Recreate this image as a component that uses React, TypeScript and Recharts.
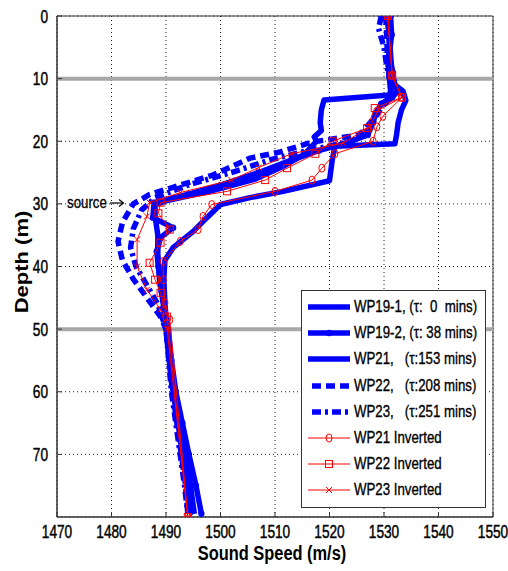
import type { ReactNode } from 'react';
import {
  CartesianGrid,
  ReferenceArea,
  ReferenceLine,
  Scatter,
  ScatterChart,
  XAxis,
  YAxis,
} from 'recharts';

const BLUE = '#0000ff';
const RED = '#ff0000';
const FONT = '"Liberation Sans", Arial, sans-serif';

const speedTicks = [1470, 1480, 1490, 1500, 1510, 1520, 1530, 1540, 1550];
const depthTicks = [0, 10, 20, 30, 40, 50, 60, 70];
const layerDepths = [10, 50];

// measured profiles: depth (m) / sound speed (m/s)
const wp191Depth = [0, 2, 5, 8, 10, 12, 12.6, 13.4, 15, 17, 18.3, 19.3, 20, 22, 24, 26, 28, 29.5, 30.2, 32, 35, 38, 42, 46, 50, 55, 60, 65, 70, 75, 79.5];
const wp191Speed = [1530.5, 1530.8, 1531, 1530.8, 1531, 1531.2, 1531, 1519, 1518.5, 1518.3, 1518.5, 1517.2, 1517.6, 1515.5, 1511.5, 1506.5, 1498, 1490, 1488, 1488, 1488.5, 1488.5, 1488.8, 1489.5, 1490, 1490.6, 1491.3, 1492.2, 1493, 1494, 1494.6];

const wp192Depth = [0, 3, 6, 9, 10.5, 12, 13, 14, 15.5, 17, 19, 20.3, 21.5, 23, 25, 27, 28.5, 29.8, 32.2, 33.8, 35.4, 37.6, 40, 44, 48, 50, 55, 60, 65, 70, 75, 79.5];
const wp192Speed = [1531.2, 1531.4, 1531, 1531.6, 1531.8, 1532.5, 1531.5, 1529.5, 1528.5, 1528, 1527, 1523, 1518, 1513, 1507, 1500, 1494, 1487.8, 1487.6, 1491.3, 1489, 1488.3, 1488.6, 1489.2, 1490, 1490.4, 1491, 1491.8, 1493, 1494.2, 1495.5, 1496.5];

const wp21Depth = [0, 3, 6, 9, 11, 12, 13.5, 15, 17, 19, 20.4, 20.8, 23, 26.3, 28, 29, 30.1, 32.2, 34.4, 37, 39, 42, 46, 50, 55, 60, 65, 70, 75, 79.5];
const wp21Speed = [1530.8, 1531, 1531.2, 1531.4, 1532, 1533.5, 1534, 1533.2, 1532.6, 1532.3, 1532, 1521, 1520.5, 1520, 1511.5, 1505.4, 1500, 1497.5, 1495, 1491.3, 1489.8, 1489.6, 1489.8, 1490.2, 1490.8, 1491.6, 1492.6, 1493.6, 1494.5, 1495.2];

const wp22Depth = [0, 3, 6, 9, 11, 13, 15, 17, 19, 20.1, 21.7, 22.7, 25.4, 27, 28.5, 30, 33, 36, 39, 42, 45, 48, 50, 55, 60, 65, 70, 75, 79.5];
const wp22Speed = [1530.3, 1530.5, 1530.6, 1530.9, 1531.2, 1531.4, 1529, 1527.5, 1525.5, 1517, 1511, 1505.4, 1498.6, 1492.6, 1487, 1484, 1482, 1481.2, 1482, 1484, 1486.5, 1489, 1490, 1490.6, 1491.2, 1492, 1492.8, 1493.6, 1494];

const wp23Depth = [0, 2, 5, 8, 10, 12, 14, 16, 18, 20, 21.5, 23, 25, 27, 29, 31, 34, 37, 40, 43, 46, 50, 55, 60, 65, 70, 75, 79.5];
const wp23Speed = [1529.5, 1529, 1530, 1530.5, 1531, 1531.8, 1530, 1528.5, 1527.5, 1524, 1516, 1509, 1502, 1494, 1488, 1485.5, 1484, 1483.5, 1484.5, 1486.5, 1488.5, 1490, 1490.5, 1491, 1491.8, 1492.6, 1493.4, 1494];

// inverted profiles
const wp21InvDepth = [0, 9.5, 13, 16, 17.7, 20, 22, 24.3, 26.2, 28, 30.1, 32, 34.1, 36, 39.2, 42.1, 45.8, 48.5, 80];
const wp21InvSpeed = [1530.7, 1531.5, 1533.3, 1529.8, 1528.7, 1528, 1521, 1518.6, 1516.8, 1510, 1498.4, 1496.8, 1495.9, 1492.6, 1489.5, 1489.5, 1489.8, 1490.7, 1494];

const wp22InvDepth = [0, 9.5, 13, 14.7, 17.9, 20, 22, 24.3, 26.2, 28, 29.8, 31.5, 34.1, 36.2, 39.4, 42.1, 44.2, 48, 80];
const wp22InvSpeed = [1530.7, 1531.5, 1533.3, 1528.3, 1526.9, 1520.6, 1517.4, 1512.2, 1508.2, 1501.2, 1489, 1488.6, 1490.7, 1489, 1487, 1488, 1489, 1490.2, 1494];

const wp23InvDepth = [0, 9.5, 13, 15, 17.7, 20.3, 22, 24.2, 26.2, 28.2, 29.8, 32, 35.7, 40, 43.7, 46.9, 50, 80];
const wp23InvSpeed = [1530.7, 1531.5, 1533.3, 1529, 1527.4, 1522.5, 1513, 1507, 1502, 1492.6, 1487, 1486.5, 1484.7, 1484.7, 1486.5, 1489, 1490.2, 1494];

interface Point {
  speed: number;
  depth: number;
}

function toPoints(depths: number[], speeds: number[]): Point[] {
  return depths.map((depth, i) => ({ depth, speed: speeds[i] }));
}

interface MarkProps {
  cx?: number;
  cy?: number;
}

type Mark = (p: MarkProps) => ReactNode;

const noMark: Mark = () => <g />;
const smallDot: Mark = ({ cx = 0, cy = 0 }) => <circle cx={cx} cy={cy} r={2} fill={BLUE} />;
const bigDot: Mark = ({ cx = 0, cy = 0 }) => <circle cx={cx} cy={cy} r={3.2} fill={BLUE} />;
const circleMark: Mark = ({ cx = 0, cy = 0 }) => (
  <ellipse cx={cx} cy={cy} rx={3} ry={4} fill="none" stroke={RED} strokeWidth={1} />
);
const squareMark: Mark = ({ cx = 0, cy = 0 }) => (
  <rect x={cx - 3.5} y={cy - 3.5} width={7} height={7} fill="none" stroke={RED} strokeWidth={1} />
);
const crossMark: Mark = ({ cx = 0, cy = 0 }) => (
  <path
    d={`M${cx - 3} ${cy - 3}L${cx + 3} ${cy + 3}M${cx - 3} ${cy + 3}L${cx + 3} ${cy - 3}`}
    stroke={RED}
    strokeWidth={1}
  />
);

interface SeriesDef {
  name: string;
  points: Point[];
  color: string;
  width: number;
  dash?: string;
  mark: Mark;
}

const blueSeries: SeriesDef[] = [
  { name: 'WP19-1, (\u03c4:  0  mins)', points: toPoints(wp191Depth, wp191Speed), color: BLUE, width: 5.5, mark: smallDot },
  { name: 'WP19-2, (\u03c4: 38 mins)', points: toPoints(wp192Depth, wp192Speed), color: BLUE, width: 5.5, mark: bigDot },
  { name: 'WP21,   (\u03c4:153 mins)', points: toPoints(wp21Depth, wp21Speed), color: BLUE, width: 5.5, mark: noMark },
  { name: 'WP22,   (\u03c4:208 mins)', points: toPoints(wp22Depth, wp22Speed), color: BLUE, width: 5.5, dash: '9 5', mark: noMark },
  { name: 'WP23,   (\u03c4:251 mins)', points: toPoints(wp23Depth, wp23Speed), color: BLUE, width: 5.5, dash: '9 4 3 4', mark: noMark },
];

const redSeries: SeriesDef[] = [
  { name: 'WP21 Inverted', points: toPoints(wp21InvDepth, wp21InvSpeed), color: RED, width: 1, mark: circleMark },
  { name: 'WP22 Inverted', points: toPoints(wp22InvDepth, wp22InvSpeed), color: RED, width: 1, mark: squareMark },
  { name: 'WP23 Inverted', points: toPoints(wp23InvDepth, wp23InvSpeed), color: RED, width: 1, mark: crossMark },
];

const allSeries = [...blueSeries, ...redSeries];

const heavyText = { stroke: '#000', strokeWidth: 0.45 };

function SpeedTick({ x = 0, y = 0, payload }: { x?: number; y?: number; payload?: { value: number } }): ReactNode {
  return (
    <text
      transform={`translate(${x},${y + 24}) scale(0.76,1)`}
      textAnchor="middle"
      fontSize={18}
      fontFamily={FONT}
      fill="#000"
      {...heavyText}
    >
      {payload?.value}
    </text>
  );
}

function DepthTick({ x = 0, y = 0, payload }: { x?: number; y?: number; payload?: { value: number } }): ReactNode {
  return (
    <text
      transform={`translate(${x - 12},${y + 6.5}) scale(0.76,1)`}
      textAnchor="end"
      fontSize={18}
      fontFamily={FONT}
      fill="#000"
      {...heavyText}
    >
      {payload?.value}
    </text>
  );
}

function LegendSample({ s }: { s: SeriesDef }): ReactNode {
  const Mk = s.mark;
  return (
    <svg width={50} height={26} style={{ display: 'block' }}>
      <line
        x1={s.dash ? 10 : 6}
        x2={48}
        y1={13}
        y2={13}
        stroke={s.color}
        strokeWidth={s.width}
        strokeDasharray={s.dash}
      />
      {Mk({ cx: 27, cy: 13 })}
    </svg>
  );
}

export default function App(): ReactNode {
  return (
    <div style={{ position: 'relative', width: 508, height: 571, fontFamily: FONT, background: '#fff' }}>
      <style>{'body { margin: 0; }'}</style>
      <ScatterChart width={508} height={571} margin={{ top: 16, right: 15, bottom: 24, left: 8 }}>
        <CartesianGrid stroke="#222" strokeDasharray="1 3" />
        <XAxis
          type="number"
          dataKey="speed"
          domain={[1470, 1550]}
          ticks={speedTicks}
          interval={0}
          allowDataOverflow
          height={30}
          tickSize={-5}
          stroke="#333"
          tick={<SpeedTick />}
        />
        <YAxis
          type="number"
          dataKey="depth"
          domain={[0, 80]}
          ticks={depthTicks}
          interval={0}
          allowDataOverflow
          reversed
          width={49}
          tickSize={-5}
          stroke="#333"
          tick={<DepthTick />}
        />
        <XAxis
          xAxisId="top"
          orientation="top"
          type="number"
          domain={[1470, 1550]}
          ticks={speedTicks}
          interval={0}
          allowDataOverflow
          height={0}
          tickSize={-5}
          stroke="#333"
          tick={false}
        />
        <YAxis
          yAxisId="right"
          orientation="right"
          type="number"
          domain={[0, 80]}
          ticks={depthTicks}
          interval={0}
          allowDataOverflow
          reversed
          width={0}
          tickSize={-5}
          stroke="#333"
          tick={false}
        />
        <ReferenceArea x1={1470} x2={1550} y1={0} y2={80} fill="none" stroke="#333" strokeWidth={1} />
        {layerDepths.map((d) => (
          <ReferenceLine key={d} y={d} stroke="#a8a8a8" strokeWidth={4} />
        ))}
        {allSeries.map((s) => (
          <Scatter
            key={s.name}
            name={s.name}
            data={s.points}
            fill={s.color}
            line={{
              stroke: s.color,
              strokeWidth: s.width,
              strokeDasharray: s.dash,
              strokeLinejoin: 'round',
            }}
            shape={s.mark as never}
            isAnimationActive={false}
          />
        ))}
      </ScatterChart>

      <div
        style={{
          position: 'absolute',
          left: 67,
          top: 193,
          height: 20,
          display: 'flex',
          alignItems: 'center',
          whiteSpace: 'pre',
        }}
      >
        <span
          style={{
            fontSize: 17,
            display: 'inline-block',
            width: 40,
            transform: 'scaleX(0.78)',
            transformOrigin: 'left center',
            WebkitTextStroke: '0.3px #000',
          }}
        >
          source
        </span>
        <svg width={16} height={12} style={{ display: 'block', marginLeft: 2 }}>
          <line x1={1} x2={14} y1={6} y2={6} stroke="#000" strokeWidth={1.2} />
          <path d="M10 2.5L14.5 6L10 9.5" fill="none" stroke="#000" strokeWidth={1.2} />
        </svg>
      </div>

      <div
        style={{
          position: 'absolute',
          left: 301,
          top: 290,
          width: 183,
          height: 216,
          border: '1px solid #333',
          background: '#fff',
        }}
      >
        {allSeries.map((s, i) => (
          <div
            key={s.name}
            style={{ position: 'absolute', left: 0, top: 3 + i * 26.2, height: 26, display: 'flex', alignItems: 'center' }}
          >
            <LegendSample s={s} />
            <span
              style={{
                fontSize: 17,
                whiteSpace: 'pre',
                display: 'inline-block',
                marginLeft: 2,
                transform: 'scaleX(0.78)',
                transformOrigin: 'left center',
                WebkitTextStroke: '0.35px #000',
              }}
            >
              {s.name}
            </span>
          </div>
        ))}
      </div>

      <div
        style={{
          position: 'absolute',
          left: 272,
          top: 553,
          fontSize: 20,
          fontWeight: 'bold',
          whiteSpace: 'pre',
          transform: 'translate(-50%, -50%) scaleX(0.82)',
        }}
      >
        Sound Speed (m/s)
      </div>
      <div
        style={{
          position: 'absolute',
          left: 22,
          top: 262,
          fontSize: 22,
          fontWeight: 'bold',
          whiteSpace: 'pre',
          transform: 'translate(-50%, -50%) rotate(-90deg) scale(1, 0.8)',
        }}
      >
        Depth (m)
      </div>
    </div>
  );
}
